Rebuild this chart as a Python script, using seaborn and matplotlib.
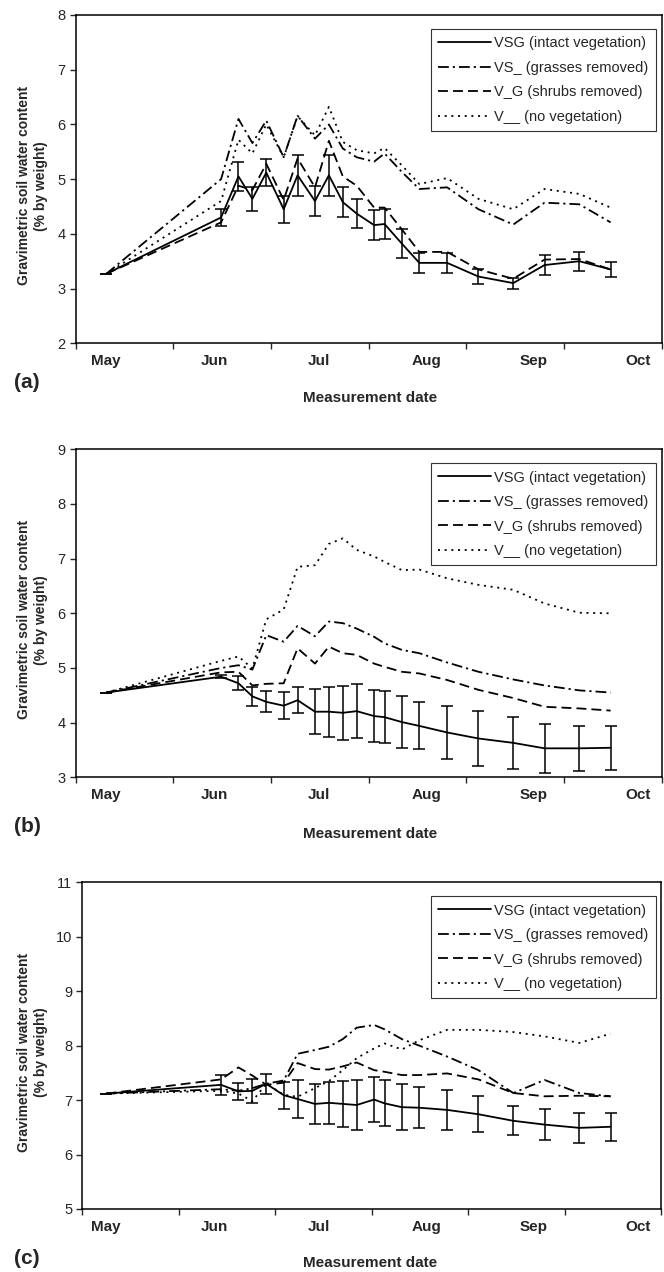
import numpy as np
import pandas as pd
import matplotlib
matplotlib.use("Agg")
import matplotlib.pyplot as plt
import matplotlib.dates as mdates
from matplotlib.lines import Line2D
import seaborn as sns

# measurement dates (same for all three panels)
dates = ["1999-05-01", "1999-06-03", "1999-06-08", "1999-06-12", "1999-06-16",
         "1999-06-21", "1999-06-25", "1999-06-30", "1999-07-04", "1999-07-08",
         "1999-07-12", "1999-07-17", "1999-07-20", "1999-07-25", "1999-07-30",
         "1999-08-07", "1999-08-16", "1999-08-26", "1999-09-04", "1999-09-14",
         "1999-09-23"]

treatments = ["VSG (intact vegetation)", "VS_ (grasses removed)",
              "V_G (shrubs removed)", "V__ (no vegetation)"]

# panel (a)
a_vsg = [3.27, 4.30, 5.05, 4.64, 5.12, 4.45, 5.07, 4.60, 5.07, 4.58, 4.37,
         4.16, 4.18, 3.82, 3.47, 3.47, 3.22, 3.10, 3.43, 3.50, 3.35]
a_vsg_err = [0, 0.16, 0.26, 0.22, 0.24, 0.25, 0.37, 0.27, 0.37, 0.27, 0.27,
             0.28, 0.28, 0.26, 0.18, 0.18, 0.13, 0.10, 0.18, 0.17, 0.14]
a_vs = [3.27, 5.00, 6.10, 5.66, 6.07, 5.40, 6.16, 5.74, 6.00, 5.56, 5.40,
        5.32, 5.47, 5.13, 4.82, 4.85, 4.45, 4.17, 4.57, 4.54, 4.21]
a_vg = [3.27, 4.21, 4.88, 4.80, 5.28, 4.62, 5.38, 4.85, 5.70, 5.05, 4.88,
        4.48, 4.48, 4.08, 3.67, 3.67, 3.35, 3.18, 3.53, 3.54, 3.35]
a_v = [3.27, 4.60, 5.72, 5.47, 6.00, 5.40, 6.15, 5.80, 6.32, 5.68, 5.53,
       5.47, 5.57, 5.25, 4.91, 5.02, 4.64, 4.45, 4.82, 4.73, 4.48]

# panel (b)
b_vsg = [4.55, 4.84, 4.72, 4.48, 4.38, 4.31, 4.41, 4.20, 4.20, 4.18, 4.21,
         4.12, 4.10, 4.01, 3.94, 3.82, 3.71, 3.63, 3.53, 3.53, 3.54]
b_vsg_err = [0, 0.03, 0.13, 0.18, 0.19, 0.25, 0.24, 0.41, 0.46, 0.49, 0.49,
             0.47, 0.48, 0.48, 0.43, 0.48, 0.51, 0.47, 0.45, 0.41, 0.40]
b_vs = [4.55, 5.00, 5.05, 4.97, 5.60, 5.48, 5.77, 5.58, 5.85, 5.82, 5.72,
        5.57, 5.45, 5.33, 5.27, 5.10, 4.93, 4.79, 4.68, 4.59, 4.55]
b_vg = [4.55, 4.92, 4.93, 4.68, 4.71, 4.72, 5.36, 5.08, 5.39, 5.27, 5.24,
        5.08, 5.02, 4.93, 4.90, 4.78, 4.60, 4.45, 4.29, 4.26, 4.22]
b_v = [4.55, 5.13, 5.21, 4.99, 5.89, 6.07, 6.85, 6.88, 7.27, 7.37, 7.16,
       7.04, 6.94, 6.79, 6.80, 6.64, 6.52, 6.43, 6.18, 6.01, 6.00]

# panel (c)
c_vsg = [7.12, 7.28, 7.16, 7.17, 7.30, 7.09, 7.02, 6.93, 6.95, 6.93, 6.91,
         7.01, 6.94, 6.87, 6.86, 6.82, 6.74, 6.62, 6.55, 6.49, 6.51]
c_vsg_err = [0, 0.18, 0.16, 0.22, 0.18, 0.25, 0.35, 0.36, 0.38, 0.42, 0.45,
             0.41, 0.42, 0.42, 0.38, 0.36, 0.33, 0.27, 0.28, 0.27, 0.26]
c_vs = [7.12, 7.20, 7.17, 7.22, 7.30, 7.36, 7.85, 7.92, 7.98, 8.12, 8.33,
        8.38, 8.30, 8.12, 8.00, 7.80, 7.55, 7.13, 7.37, 7.13, 7.07]
c_vg = [7.12, 7.38, 7.60, 7.45, 7.28, 7.32, 7.68, 7.57, 7.56, 7.62, 7.69,
        7.55, 7.52, 7.46, 7.46, 7.49, 7.38, 7.13, 7.07, 7.08, 7.07]
c_v = [7.12, 7.17, 7.12, 6.98, 7.30, 7.10, 7.06, 7.22, 7.35, 7.55, 7.77,
       7.95, 8.04, 7.93, 8.10, 8.29, 8.29, 8.25, 8.17, 8.05, 8.22]

panel_labels = ["(a)", "(b)", "(c)"]
y_limits = [(2, 8), (3, 9), (5, 11)]
month_starts = ["1999-05-01", "1999-06-01", "1999-07-01", "1999-08-01",
                "1999-09-01", "1999-10-01"]
month_names = ["May", "Jun", "Jul", "Aug", "Sep", "Oct"]

panels = [
    (a_vsg, a_vsg_err, a_vs, a_vg, a_v),
    (b_vsg, b_vsg_err, b_vs, b_vg, b_v),
    (c_vsg, c_vsg_err, c_vs, c_vg, c_v),
]

dash_map = {
    treatments[0]: "",
    treatments[1]: (6, 2.2, 1.2, 2.2),
    treatments[2]: (5.5, 2.8),
    treatments[3]: (1.1, 2.6),
}

sns.set_style("ticks")
plt.rcParams["font.family"] = ["Liberation Sans", "DejaVu Sans"]

W, H = 664, 1272
fig = plt.figure(figsize=(W / 100, H / 100), dpi=100)


def px_axes(left, top, right, bottom):
    return fig.add_axes([left / W, 1 - bottom / H, (right - left) / W, (bottom - top) / H])


# axes boxes in pixels: left, top, right, bottom
boxes = [(75.5, 15, 661.5, 343.3), (75.5, 449.3, 661.5, 777.3), (82, 882.3, 661, 1209)]
label_y = [382, 826, 1258]
title_y = [398, 834, 1263]

day0 = mdates.date2num(pd.Timestamp("1999-05-01"))
px_per_day = 3.478
x_date = pd.to_datetime(dates)

for i, (vsg, vsg_err, vs, vg, v) in enumerate(panels):
    left, top, right, bottom = boxes[i]
    ax = px_axes(left, top, right, bottom)

    df = pd.DataFrame({
        "date": np.tile(x_date, 4),
        "value": np.concatenate([vsg, vs, vg, v]),
        "treatment": np.repeat(treatments, len(dates)),
    })
    sns.lineplot(data=df, x="date", y="value", style="treatment",
                 style_order=treatments, dashes=dash_map, color="black",
                 linewidth=1.3, errorbar=None, legend=False, ax=ax)
    ax.errorbar(x_date, vsg, yerr=vsg_err, fmt="none", ecolor="black",
                elinewidth=1.1, capsize=4.5, capthick=1.1)

    # x range from the shared day-to-pixel mapping
    lo = day0 + (left - 106.3) / px_per_day
    hi = day0 + (right - 106.3) / px_per_day
    ax.set_xlim(lo, hi)
    ax.set_xticks(np.linspace(lo, hi, 7))
    ax.set_xticklabels([])
    ax.set_xticks(mdates.date2num(pd.to_datetime(month_starts)), minor=True)
    ax.set_xticklabels(month_names, minor=True, fontsize=11, fontweight="bold")
    ax.tick_params(axis="x", which="major", direction="out", length=4, width=1)
    ax.tick_params(axis="x", which="minor", length=0, pad=8)

    lo_y, hi_y = y_limits[i]
    ax.set_ylim(lo_y, hi_y)
    ax.set_yticks(range(lo_y, hi_y + 1))
    ax.tick_params(axis="y", direction="out", length=4, width=1, labelsize=10.5, pad=3)

    for s in ax.spines.values():
        s.set_visible(True)
        s.set_linewidth(1.1)
        s.set_color("black")

    ax.set_xlabel("")
    ax.set_ylabel("Gravimetric soil water content\n(% by weight)", fontsize=10,
                  fontweight="bold", multialignment="center", linespacing=1.25)
    ax.yaxis.set_label_coords((48 - left) / (right - left), 0.48)

    handles = [Line2D([], [], color="black", lw=1.3,
                      linestyle="-" if dash_map[t] == "" else (0, dash_map[t]))
               for t in treatments]
    leg = ax.legend(handles, treatments, loc="upper right",
                    bbox_to_anchor=((656 - left) / (right - left),
                                    1 - 14 / (bottom - top)),
                    frameon=True, fancybox=False, fontsize=10.5, handlelength=3.6,
                    handletextpad=0.25, labelspacing=0.72, borderpad=0.5,
                    borderaxespad=0)
    leg.get_frame().set_edgecolor("black")
    leg.get_frame().set_linewidth(0.8)

    fig.text(27 / W, 1 - label_y[i] / H, panel_labels[i], fontsize=15,
             fontweight="bold", ha="center", va="center")
    fig.text(370 / W, 1 - title_y[i] / H, "Measurement date", fontsize=11,
             fontweight="bold", ha="center", va="center")

fig.savefig("out.png", dpi=100)
